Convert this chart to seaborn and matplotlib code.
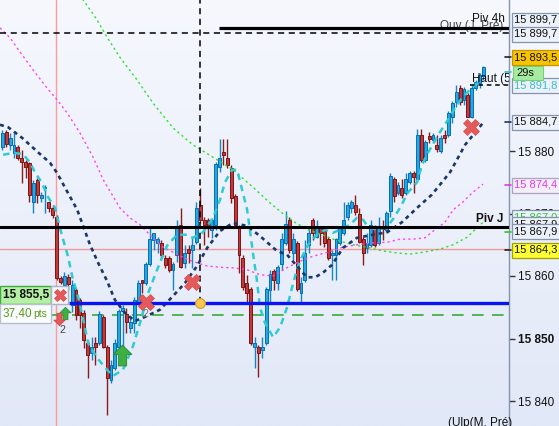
import numpy as np
import pandas as pd
import matplotlib
matplotlib.use("Agg")
import matplotlib.pyplot as plt
import seaborn as sns
import matplotlib.colors as mcolors
from matplotlib.patches import Rectangle
from matplotlib.path import Path
from matplotlib.lines import Line2D

# ---------------- data ----------------
opens = [15880.6, 15883.0, 15881.0, 15879.7, 15880.6, 15878.9, 15878.2, 15878.1, 15871.8, 15875.4,
         15872.5, 15874.1, 15871.8, 15870.9, 15869.4, 15859.7, 15858.6, 15859.8, 15855.4, 15857.8,
         15856.2, 15854.1, 15849.3, 15847.7, 15849.3, 15849.3, 15853.4, 15848.6, 15843.4, 15845.3,
         15848.6, 15854.4, 15853.9, 15851.7, 15852.5, 15855.7, 15859.4, 15858.9, 15861.9, 15865.8,
         15865.3, 15865.3, 15862.9, 15862.9, 15861.0, 15863.4, 15868.2, 15862.1, 15864.3, 15864.2,
         15865.4, 15871.4, 15869.0, 15869.0, 15867.4, 15868.2, 15877.4, 15879.8, 15878.9, 15877.3,
         15872.8, 15867.8, 15862.9, 15858.9, 15857.9, 15848.6, 15848.6, 15848.2, 15849.3, 15857.8,
         15860.8, 15858.9, 15861.9, 15865.3, 15869.0, 15863.7, 15865.3, 15857.3, 15859.4, 15865.0,
         15869.0, 15866.3, 15867.7, 15867.7, 15865.9, 15863.4, 15863.4, 15865.3, 15866.9, 15869.4,
         15870.9, 15871.4, 15869.9, 15865.9, 15864.5, 15865.0, 15867.7, 15865.3, 15868.0, 15867.4,
         15870.4, 15875.5, 15873.3, 15874.1, 15873.3, 15875.0, 15876.5, 15875.5, 15882.6, 15878.6,
         15882.4, 15881.8, 15881.0, 15880.0, 15882.6, 15882.6, 15885.4, 15887.8, 15890.1, 15888.2,
         15889.0, 15885.4, 15890.1, 15890.9, 15892.0]
highs = [15883.4, 15883.4, 15882.9, 15882.9, 15881.0, 15880.2, 15878.6, 15878.2, 15875.4, 15875.7,
         15873.4, 15874.6, 15871.8, 15871.4, 15869.8, 15860.0, 15860.6, 15860.3, 15859.4, 15858.1,
         15856.5, 15854.6, 15849.8, 15850.2, 15850.2, 15854.4, 15853.8, 15849.0, 15846.6, 15849.9,
         15854.7, 15855.4, 15854.9, 15853.4, 15856.6, 15859.4, 15859.4, 15862.2, 15867.7, 15866.9,
         15866.3, 15865.8, 15863.4, 15863.2, 15862.2, 15869.0, 15870.9, 15865.0, 15865.0, 15866.1,
         15871.8, 15874.1, 15869.4, 15869.3, 15869.3, 15878.2, 15881.9, 15881.9, 15881.9, 15877.8,
         15873.1, 15868.2, 15863.4, 15860.2, 15858.2, 15850.2, 15849.0, 15850.2, 15858.2, 15861.0,
         15861.1, 15861.8, 15866.9, 15870.4, 15869.4, 15866.9, 15865.6, 15859.8, 15865.8, 15867.8,
         15869.3, 15869.0, 15868.0, 15868.0, 15866.3, 15864.2, 15866.1, 15868.0, 15871.8, 15871.8,
         15872.2, 15873.0, 15870.9, 15866.3, 15866.9, 15869.0, 15868.2, 15869.4, 15869.0, 15870.4,
         15876.5, 15875.8, 15875.0, 15875.5, 15876.5, 15876.8, 15876.8, 15883.5, 15883.5, 15881.8,
         15883.0, 15882.9, 15882.6, 15882.6, 15883.4, 15886.4, 15888.0, 15890.6, 15890.6, 15890.2,
         15889.3, 15890.6, 15891.4, 15892.5, 15893.6]
lows = [15880.2, 15880.6, 15880.2, 15878.9, 15878.6, 15874.9, 15875.7, 15871.8, 15870.1, 15871.7,
        15871.8, 15870.1, 15870.2, 15869.3, 15859.4, 15858.7, 15857.8, 15857.8, 15854.2, 15853.0,
        15851.7, 15848.5, 15843.7, 15846.6, 15845.8, 15849.0, 15848.5, 15837.8, 15842.9, 15845.0,
        15848.3, 15848.6, 15850.9, 15850.9, 15850.9, 15855.4, 15857.3, 15858.6, 15861.6, 15864.2,
        15863.7, 15862.9, 15861.3, 15860.6, 15857.8, 15862.2, 15861.3, 15861.3, 15862.1, 15861.3,
        15865.1, 15868.5, 15865.0, 15866.3, 15866.1, 15867.4, 15876.6, 15877.8, 15877.3, 15871.7,
        15867.7, 15860.5, 15857.8, 15855.7, 15849.0, 15845.3, 15843.8, 15846.9, 15849.0, 15855.7,
        15857.8, 15857.8, 15861.0, 15865.0, 15863.7, 15862.6, 15857.6, 15855.7, 15859.0, 15863.7,
        15865.8, 15866.1, 15865.0, 15864.6, 15862.6, 15859.4, 15859.4, 15865.0, 15866.6, 15869.0,
        15870.1, 15869.8, 15865.3, 15861.8, 15863.7, 15864.6, 15864.6, 15865.0, 15865.8, 15867.0,
        15869.4, 15871.8, 15873.0, 15872.5, 15873.0, 15874.7, 15873.3, 15875.2, 15878.2, 15878.2,
        15881.3, 15881.3, 15879.8, 15879.7, 15881.3, 15882.2, 15884.5, 15887.0, 15887.4, 15887.4,
        15885.4, 15885.3, 15889.8, 15890.1, 15891.4]
closes = [15882.9, 15881.1, 15882.1, 15881.0, 15878.9, 15878.2, 15877.4, 15873.0, 15874.9, 15873.0,
          15873.0, 15874.2, 15870.9, 15869.8, 15859.7, 15859.0, 15860.0, 15858.7, 15858.6, 15853.8,
          15853.8, 15849.8, 15847.4, 15848.6, 15848.6, 15853.9, 15848.6, 15843.7, 15845.8, 15849.3,
          15854.4, 15854.9, 15852.6, 15852.6, 15856.2, 15858.9, 15858.9, 15861.9, 15865.9, 15866.9,
          15865.9, 15863.4, 15861.8, 15861.0, 15861.9, 15867.7, 15861.4, 15863.7, 15863.7, 15865.0,
          15870.9, 15869.0, 15868.2, 15867.7, 15869.0, 15877.9, 15878.9, 15879.4, 15877.8, 15872.5,
          15868.2, 15863.4, 15858.2, 15857.3, 15849.3, 15849.3, 15847.7, 15848.6, 15857.9, 15860.3,
          15859.4, 15861.4, 15865.9, 15868.3, 15864.2, 15865.9, 15857.9, 15858.9, 15863.7, 15866.9,
          15866.9, 15867.7, 15866.9, 15865.3, 15862.9, 15863.7, 15865.9, 15867.7, 15869.0, 15871.4,
          15871.8, 15870.2, 15865.4, 15863.7, 15865.3, 15868.2, 15865.0, 15867.7, 15867.5, 15870.1,
          15876.0, 15872.8, 15874.6, 15873.0, 15875.5, 15876.5, 15875.8, 15882.6, 15878.6, 15881.4,
          15881.9, 15882.6, 15880.3, 15882.1, 15882.1, 15886.1, 15887.7, 15889.4, 15887.8, 15889.9,
          15885.4, 15890.1, 15891.0, 15892.2, 15893.5]

navy_x = [-0.6, 1.5, 5.1, 9.2, 12.3, 14.1, 16.2, 19.3, 22.6, 24.7, 27.0, 29.0, 31.6, 34.2, 37.3,
          40.6, 44.0, 47.1, 50.2, 52.8, 56.1, 59.5, 63.1, 66.4, 70.8, 73.4, 76.2, 78.5, 80.6, 82.6,
          85.0, 87.8, 91.4, 95.5, 99.2, 103.0, 106.9, 110.7, 115.4, 119.3, 123.9]
navy_y = [15884.2, 15883.8, 15882.1, 15879.8, 15878.1, 15876.5, 15874.1, 15870.6, 15865.0, 15862.1,
          15859.2, 15856.2, 15854.1, 15852.8, 15853.6, 15854.6, 15856.8, 15858.9, 15861.6, 15864.5,
          15867.2, 15868.5, 15868.0, 15866.4, 15864.0, 15863.4, 15861.4, 15859.8, 15859.8, 15860.5,
          15861.8, 15864.5, 15866.1, 15866.6, 15867.0, 15868.6, 15870.9, 15873.0, 15876.6, 15881.0,
          15884.5]
cyan_x = [0.2, 2.8, 5.3, 7.1, 8.4, 10.2, 11.8, 13.6, 15.4, 16.9, 18.2, 19.3, 20.5, 22.1, 24.4,
          27.0, 28.5, 31.1, 33.7, 35.5, 37.6, 39.9, 42.4, 45.0, 47.6, 49.1, 51.7, 54.3, 56.1, 57.4,
          59.2, 60.5, 61.8, 63.1, 63.8, 64.6, 65.6, 66.4, 67.7, 69.8, 71.6, 73.4, 74.7, 75.9, 77.2,
          78.8, 81.1, 83.2, 85.2, 87.0, 89.6, 91.4, 93.0, 94.3, 96.6, 99.1, 100.7, 102.5, 104.6,
          106.9, 108.2, 109.7, 112.8, 114.9, 116.7, 118.5, 121.1, 122.6]
cyan_y = [15879.4, 15879.7, 15879.5, 15878.2, 15876.6, 15874.9, 15872.6, 15870.9, 15866.4, 15863.2,
          15859.4, 15857.3, 15854.1, 15849.3, 15846.9, 15845.0, 15844.0, 15845.0, 15848.8, 15852.5,
          15857.3, 15861.0, 15864.8, 15866.6, 15866.6, 15866.1, 15867.0, 15869.3, 15872.2, 15875.0,
          15877.0, 15877.0, 15873.8, 15870.6, 15867.4, 15863.7, 15859.4, 15855.0, 15852.5, 15850.2,
          15851.8, 15855.0, 15858.2, 15861.0, 15863.0, 15865.0, 15866.6, 15867.4, 15866.9, 15867.4,
          15868.2, 15869.3, 15869.0, 15867.8, 15867.4, 15867.8, 15869.1, 15870.9, 15873.4, 15875.0,
          15877.8, 15879.7, 15883.0, 15885.0, 15886.9, 15888.5, 15890.2, 15890.9]
green_x = [17.4, 20.8, 24.4, 27.0, 30.3, 34.7, 38.8, 44.0, 49.1, 54.3, 59.5, 64.6, 69.0, 72.1,
           75.4, 78.8, 82.4, 85.7, 90.4, 94.8, 98.1, 101.7, 105.1, 108.4, 112.8, 116.2, 119.8, 123.9]
green_y = [15907.4, 15904.2, 15901.0, 15898.2, 15895.0, 15891.4, 15887.7, 15883.7, 15881.0, 15879.0,
           15877.0, 15874.2, 15871.7, 15870.1, 15868.6, 15867.4, 15866.6, 15865.8, 15865.0, 15864.5,
           15864.0, 15863.7, 15863.5, 15863.8, 15864.3, 15865.0, 15866.2, 15868.6]
magenta_x = [-0.6, 2.0, 4.6, 7.9, 11.5, 14.1, 16.7, 20.0, 23.4, 26.0, 28.3, 30.3, 32.9, 35.5, 38.8,
             41.4, 45.0, 47.6, 50.2, 52.8, 56.1, 59.5, 63.1, 66.4, 69.8, 73.6, 76.2, 78.8, 81.4,
             83.9, 87.8, 91.4, 95.5, 99.2, 102.5, 105.9, 108.9, 111.5, 114.1, 116.2, 118.5, 121.1, 123.9]
magenta_y = [15899.7, 15898.1, 15895.8, 15893.0, 15890.1, 15888.2, 15886.1, 15882.9, 15879.0, 15875.4,
             15873.0, 15870.9, 15869.3, 15868.2, 15866.1, 15864.6, 15863.5, 15862.7, 15862.1, 15861.6,
             15861.4, 15861.3, 15861.0, 15860.2, 15860.0, 15861.4, 15862.2, 15862.9, 15863.4, 15863.8,
             15864.6, 15865.0, 15865.3, 15865.4, 15865.9, 15865.9, 15866.1, 15867.4, 15868.6, 15870.6,
             15871.7, 15873.3, 15874.7]

piv_4h = 15899.7
ouv_level = 15898.9
haut_5m = 15890.6
piv_j = 15867.9
level_pink = 15864.3
level_blue = 15855.7
level_green = 15853.8
cross_x = 51.0
red_vline_x = 13.8

xmark_x = [14.9, 37.0, 48.9, 120.8]
xmark_y = [15857.0, 15855.8, 15859.0, 15883.8]

yticks = [15840, 15850, 15860, 15870, 15880]
ytick_labels = ['15 840', '15 850', '15 860', '15 870', '15 880']

right_labels = [  # (pixel y, text, face, text colour, edge)
    (20, '15 899,7', '#edf1f9', '#111111', '#8494ad'),
    (34, '15 899,7', '#edf1f9', '#111111', '#8494ad'),
    (57, '15 893,5', '#f8c400', '#111111', '#c49400'),
    (85, '15 891,8', '#edf1f9', '#3cbccc', '#8494ad'),
    (122, '15 884,7', '#edf1f9', '#111111', '#8494ad'),
    (185, '15 874,4', '#f3eef9', '#e03ce0', '#b0a0c8'),
    (217, '15 867,0', '#edf1f9', '#2cc82c', '#8494ad'),
    (224, '15 867,9', '#edf1f9', '#111111', '#8494ad'),
    (232, '15 867,9', '#edf1f9', '#111111', '#8494ad'),
    (250, '15 864,3', '#ffff33', '#111111', '#a0a000'),
]

# ---------------- figure ----------------
sns.set_theme(style="white")
plt.rcParams['font.family'] = ['Liberation Sans', 'DejaVu Sans']

W, H = 559, 426
fig = plt.figure(figsize=(W / 100, H / 100), dpi=100)

bg = fig.add_axes([0, 0, 1, 1], zorder=-10)
grad = np.linspace(0, 1, 256).reshape(-1, 1)
cmap = mcolors.LinearSegmentedColormap.from_list('bg', ['#f6f8fe', '#e1e8f7'])
bg.imshow(grad, aspect='auto', cmap=cmap, extent=[0, 1, 0, 1], origin='upper')
bg.axis('off')

ax = fig.add_axes([0, 0, 509 / W, 1])
ax.patch.set_alpha(0)
ax.set_xlim(-0.6, 130.6)
ax.set_ylim(15836.0, 15904.16)
for s in ['top', 'left', 'bottom']:
    ax.spines[s].set_visible(False)
ax.spines['right'].set_color('#8394ad')
ax.spines['right'].set_linewidth(1)
ax.set_xticks([])
ax.yaxis.tick_right()
ax.set_yticks(yticks)
ax.set_yticklabels(ytick_labels)
ax.tick_params(axis='y', length=4, width=1, pad=2.5, labelsize=8.5, colors='#333333',
               labelcolor='#111111')
for t in ax.get_yticklabels():
    if t.get_text() == '15 850':
        t.set_fontweight('bold')
ax.grid(False)


def fx(px):
    return px / W


def fy(py):
    return 1 - py / H


# horizontal / vertical levels
ax.axvline(red_vline_x, color='#ff9a9a', lw=1.0, zorder=1)
ax.axhline(level_pink, color='#f29a9a', lw=1.0, zorder=1)
ax.hlines(piv_4h, 55.9, 130.6, color='black', lw=2.3, zorder=7)
ax.axhline(ouv_level, color='black', lw=1.1, ls=(0, (4, 3)), zorder=7)
ax.hlines(haut_5m, 120.5, 130.6, color='black', lw=1.1, ls=(0, (3, 2.5)), zorder=7)
ax.axhline(piv_j, color='black', lw=2.2, zorder=7)
ax.hlines(level_blue, 17.2, 130.6, color='#0a14f0', lw=2.4, zorder=7)
ax.hlines(level_green, 12.8, 130.6, color='#3aaa3a', lw=1.2, ls=(0, (7, 5)), zorder=2)
ax.vlines(cross_x, level_blue, 15904.16, color='black', lw=1.1, ls=(0, (4, 3)), zorder=7)

# candles
df = pd.DataFrame({'open': opens, 'high': highs, 'low': lows, 'close': closes})
df['i'] = np.arange(len(df))
up = df['close'] >= df['open']
wick_c = np.where(up, '#1187c9', '#8a1b1b')
fill_c = np.where(up, '#22a8e2', '#c3393b')
edge_c = np.where(up, '#0a6db0', '#7a1515')
bottom = np.minimum(df['open'], df['close'])
height = np.maximum(np.abs(df['close'] - df['open']), 0.15)
ax.vlines(df['i'], df['low'], df['high'], colors=wick_c, lw=1.0, zorder=3)
ax.bar(df['i'], height, bottom=bottom, width=0.74, color=fill_c, edgecolor=edge_c,
       linewidth=0.7, zorder=4)

# indicator lines
specs = [
    (green_x, green_y, '#2ee02e', 1.0, [1.6, 2.2], 5),
    (magenta_x, magenta_y, '#ff44ee', 1.0, [1.6, 2.2], 5),
    (cyan_x, cyan_y, '#2fcad2', 1.8, [2.6, 2.0], 6),
    (navy_x, navy_y, '#1a3766', 1.9, [1.5, 1.5], 6),
]
for xs, ys, col, lw, dash, z in specs:
    n0 = len(ax.lines)
    sns.lineplot(x=xs, y=ys, ax=ax, color=col, linewidth=lw, sort=False,
                 estimator=None, legend=False)
    for ln in ax.lines[n0:]:
        ln.set_dashes(dash)
        ln.set_zorder(z)
        ln.set_solid_capstyle('butt')

# left price boxes
ax.add_patch(Rectangle((fx(0), fy(304)), fx(51), 18 / H, transform=fig.transFigure,
                       fc='#b4efa4', ec='#3cae3c', lw=1, clip_on=False, zorder=8))
ax.add_patch(Rectangle((fx(51), fy(304)), fx(17), 18 / H, transform=fig.transFigure,
                       fc='#f3f5f9', ec='#aab4c4', lw=1, clip_on=False, zorder=8))
ax.add_patch(Rectangle((fx(0), fy(323)), fx(51), 19 / H, transform=fig.transFigure,
                       fc='#fbfcfe', ec='#b8c0cc', lw=1, clip_on=False, zorder=8))
ax.text(fx(3), fy(295), '15 855,5', transform=fig.transFigure, fontsize=8.5,
        fontweight='bold', va='center', ha='left', color='#111111', zorder=9)
ax.text(fx(3), fy(314), '37,40', transform=fig.transFigure, fontsize=8.5,
        va='center', ha='left', color='#5a9a20', zorder=9)
ax.text(fx(33), fy(314), 'pts', transform=fig.transFigure, fontsize=7.5,
        va='center', ha='left', color='#5a9a20', zorder=9)

# markers
sizes = [9, 12, 11, 12]
for xm, ym, sz in zip(xmark_x, xmark_y, sizes):
    ax.plot([xm], [ym], marker='X', ms=sz, color='#e45a5a', mec='#d84a4a', mew=0.5,
            ls='none', zorder=10)
arrow_up = Path([(0, 1), (0.9, 0.1), (0.4, 0.1), (0.4, -1), (-0.4, -1), (-0.4, 0.1),
                 (-0.9, 0.1), (0, 1)],
                [Path.MOVETO] + [Path.LINETO] * 6 + [Path.CLOSEPOLY])
arrow_dn = Path([(x, -y) for x, y in arrow_up.vertices], arrow_up.codes)
ax.plot([30.9], [15847.3], marker=arrow_up, ms=15, color='#3cb043', mec='#26882c',
        mew=0.6, ls='none', zorder=10)
ax.plot([16.2], [15854.1], marker=arrow_up, ms=9, color='#3cb043', mec='#26882c',
        mew=0.5, ls='none', zorder=10)
ax.plot([14.6], [15853.1], marker=arrow_dn, ms=9, color='#e45a5a', mec='#c84040',
        mew=0.5, ls='none', zorder=10)
ax.plot([cross_x], [level_blue], marker='o', ms=7, color='#f8c850', mec='#d89a20',
        mew=0.8, ls='none', zorder=11)
ax.text(fx(62), fy(330), '2', transform=fig.transFigure, fontsize=7.5, ha='center',
        va='center', color='#444444', zorder=9)
ax.text(fx(145), fy(314), '2', transform=fig.transFigure, fontsize=7.5, ha='center',
        va='center', color='#777777', zorder=9)

# level captions
ax.text(fx(503), fy(26.5), 'Ouv (J, Pré)', transform=fig.transFigure, fontsize=8.5,
        ha='right', va='center', color='#444444', zorder=6)
ax.text(fx(505), fy(19), 'Piv 4h', transform=fig.transFigure, fontsize=8.5,
        ha='right', va='center', color='#111111', zorder=8)
ax.text(fx(472), fy(79), 'Haut (5m', transform=fig.transFigure, fontsize=8.5,
        ha='left', va='center', color='#111111', zorder=8, clip_on=True)
ax.text(fx(503), fy(219), 'Piv J', transform=fig.transFigure, fontsize=8.5,
        ha='right', va='center', color='#111111', zorder=8, fontweight='bold')

# right-side value boxes
z = 20
for py, txt, fc, tc, ec in right_labels:
    fig.patches.append(Rectangle((fx(511.5), fy(py + 7.5)), fx(50), 15 / H,
                                 transform=fig.transFigure, fc=fc, ec=ec, lw=0.9, zorder=z))
    fig.text(fx(514), fy(py), txt, color=tc, fontsize=8.0, va='center', ha='left', zorder=z + 1)
    z += 2
    if txt == '15 891,8':
        fig.patches.append(Rectangle((fx(513), fy(80)), fx(30), 14 / H,
                                     transform=fig.transFigure, fc='#a6eca0', ec='#7ccc78',
                                     lw=0.8, zorder=z))
        fig.text(fx(516), fy(73), '29s', color='#111111', fontsize=8.0, va='center',
                 ha='left', zorder=z + 1)
        z += 2

for py, col in [(57, '#222222'), (72, '#3cbccc'), (122, '#1a3766'), (185, '#e03ce0'),
                (232, '#2cc82c'), (250, '#222222')]:
    fig.add_artist(Line2D([fx(505), fx(511)], [fy(py), fy(py)], color=col, lw=1.2,
                          transform=fig.transFigure, zorder=15))

fig.text(fx(448), fy(417), '(Ulp(M, Pré)', fontsize=8.5, va='top', ha='left', color='#111111')

fig.savefig('out.png', dpi=100)
